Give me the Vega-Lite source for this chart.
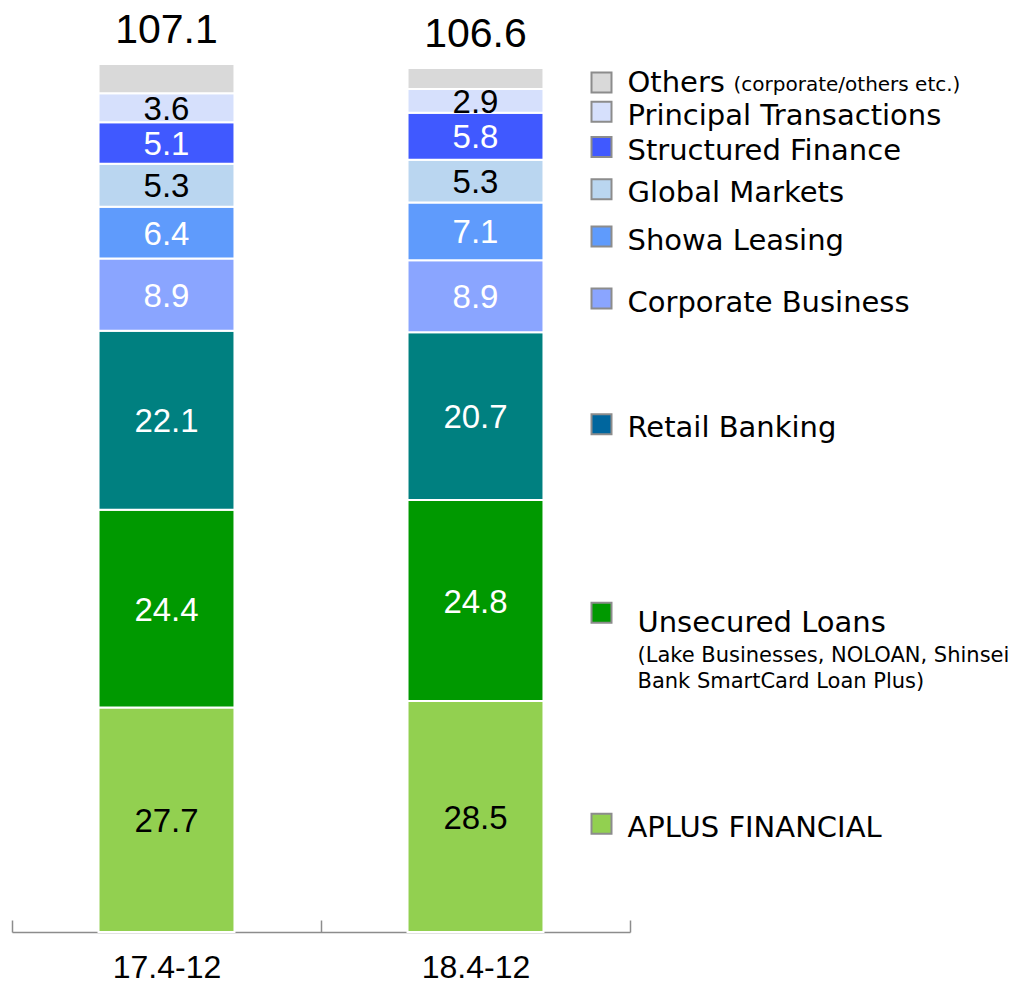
{
  "$schema": "https://vega.github.io/schema/vega-lite/v6.json",
  "autosize": {"type": "none"},
  "width": 618,
  "height": 868,
  "padding": {"left": 12, "top": 64, "right": 381, "bottom": 54},
  "background": "white",
  "config": {"view": {"stroke": null}},
  "datasets": {
    "segments": [
      {"period": "17.4-12", "segment": "APLUS FINANCIAL", "value": 27.7},
      {"period": "17.4-12", "segment": "Unsecured Loans", "value": 24.4},
      {"period": "17.4-12", "segment": "Retail Banking", "value": 22.1},
      {"period": "17.4-12", "segment": "Corporate Business", "value": 8.9},
      {"period": "17.4-12", "segment": "Showa Leasing", "value": 6.4},
      {"period": "17.4-12", "segment": "Global Markets", "value": 5.3},
      {"period": "17.4-12", "segment": "Structured Finance", "value": 5.1},
      {"period": "17.4-12", "segment": "Principal Transactions", "value": 3.6},
      {"period": "17.4-12", "segment": "Others", "value": 3.6},
      {"period": "18.4-12", "segment": "APLUS FINANCIAL", "value": 28.5},
      {"period": "18.4-12", "segment": "Unsecured Loans", "value": 24.8},
      {"period": "18.4-12", "segment": "Retail Banking", "value": 20.7},
      {"period": "18.4-12", "segment": "Corporate Business", "value": 8.9},
      {"period": "18.4-12", "segment": "Showa Leasing", "value": 7.1},
      {"period": "18.4-12", "segment": "Global Markets", "value": 5.3},
      {"period": "18.4-12", "segment": "Structured Finance", "value": 5.8},
      {"period": "18.4-12", "segment": "Principal Transactions", "value": 2.9},
      {"period": "18.4-12", "segment": "Others", "value": 2.6}
    ],
    "notes": [
      {"segment": "Others", "note": "(corporate/others etc.)"},
      {"segment": "Unsecured Loans", "note": "(Lake Businesses, NOLOAN, Shinsei\nBank SmartCard Loan Plus)"}
    ]
  },
  "data": {"name": "segments"},
  "transform": [
    {"calculate": "indexof(['APLUS FINANCIAL','Unsecured Loans','Retail Banking','Corporate Business','Showa Leasing','Global Markets','Structured Finance','Principal Transactions','Others'], datum.segment)", "as": "rank"},
    {"stack": "value", "groupby": ["period"], "sort": [{"field": "rank", "order": "ascending"}], "as": ["v0", "v1"]},
    {"calculate": "(datum.v0 + datum.v1) / 2", "as": "mid"},
    {"lookup": "segment", "from": {"data": {"name": "notes"}, "key": "segment", "fields": ["note"]}}
  ],
  "resolve": {"scale": {"color": "independent"}},
  "layer": [
    {
      "mark": {"type": "bar", "stroke": "white", "strokeWidth": 2, "width": {"band": 0.44}},
      "encoding": {
        "x": {"field": "period", "type": "nominal", "sort": ["17.4-12", "18.4-12"],
              "scale": {"paddingInner": 0, "paddingOuter": 0},
              "axis": {"title": null, "labelAngle": 0, "labelFont": "Liberation Sans", "labelFontSize": 32, "labelColor": "black",
                       "domainColor": "#8c8c8c", "domainWidth": 1.5, "tickColor": "#8c8c8c", "tickWidth": 1.5, "tickSize": -12,
                       "tickBand": "extent", "labelPadding": 32, "labelBaseline": "top"}},
        "y": {"field": "v0", "type": "quantitative", "scale": {"domain": [0, 107.1], "nice": false}, "axis": null},
        "y2": {"field": "v1"},
        "color": {"field": "segment", "type": "nominal", "legend": null,
                  "scale": {"domain": ["APLUS FINANCIAL", "Unsecured Loans", "Retail Banking", "Corporate Business", "Showa Leasing", "Global Markets", "Structured Finance", "Principal Transactions", "Others"],
                            "range": ["#92d050", "#009900", "#008080", "#8aa5ff", "#5f9bfc", "#bad6f0", "#4059ff", "#d6e0fc", "#d9d9d9"]}}
      }
    },
    {
      "transform": [{"filter": "datum.segment != 'Others'"}],
      "mark": {"type": "text", "font": "Liberation Sans", "fontSize": 33, "baseline": "middle", "align": "center", "dy": 2},
      "encoding": {
        "x": {"field": "period", "type": "nominal", "sort": ["17.4-12", "18.4-12"]},
        "y": {"field": "mid", "type": "quantitative"},
        "text": {"field": "value", "type": "quantitative", "format": ".1f"},
        "color": {"condition": {"test": "indexof(['Principal Transactions','Global Markets','APLUS FINANCIAL'], datum.segment) >= 0", "value": "black"}, "value": "white"}
      }
    },
    {
      "transform": [{"aggregate": [{"op": "sum", "field": "value", "as": "total"}], "groupby": ["period"]}],
      "mark": {"type": "text", "font": "Liberation Sans", "fontSize": 41, "baseline": "alphabetic", "align": "center", "dy": -21, "color": "black"},
      "encoding": {
        "x": {"field": "period", "type": "nominal", "sort": ["17.4-12", "18.4-12"]},
        "y": {"field": "total", "type": "quantitative"},
        "text": {"field": "total", "type": "quantitative", "format": ".1f"}
      }
    },
    {
      "transform": [{"filter": "datum.period == '17.4-12'"}],
      "mark": {"type": "point", "shape": "square", "filled": true, "size": 400, "stroke": "#8c8c8c", "strokeWidth": 2, "opacity": 1, "xOffset": 126, "yOffset": 4},
      "encoding": {
        "x": {"datum": "18.4-12", "type": "nominal"},
        "y": {"field": "mid", "type": "quantitative"},
        "color": {"field": "segment", "type": "nominal", "legend": null,
                  "scale": {"domain": ["APLUS FINANCIAL", "Unsecured Loans", "Retail Banking", "Corporate Business", "Showa Leasing", "Global Markets", "Structured Finance", "Principal Transactions", "Others"],
                            "range": ["#92d050", "#009900", "#00669e", "#8aa5ff", "#5f9bfc", "#bad6f0", "#4059ff", "#d6e0fc", "#d9d9d9"]}}
      }
    },
    {
      "transform": [{"filter": "datum.period == '17.4-12' && datum.segment != 'Unsecured Loans' && datum.segment != 'Others'"}],
      "mark": {"type": "text", "font": "DejaVu Sans", "fontSize": 29, "baseline": "middle", "align": "left", "dx": 152, "dy": 8, "color": "black"},
      "encoding": {
        "x": {"datum": "18.4-12", "type": "nominal"},
        "y": {"field": "mid", "type": "quantitative"},
        "text": {"field": "segment", "type": "nominal"}
      }
    },
    {
      "transform": [{"filter": "datum.period == '17.4-12' && datum.segment == 'Others'"}],
      "mark": {"type": "text", "font": "DejaVu Sans", "fontSize": 29, "baseline": "middle", "align": "left", "dx": 152, "dy": 4, "color": "black"},
      "encoding": {
        "x": {"datum": "18.4-12", "type": "nominal"},
        "y": {"field": "mid", "type": "quantitative"},
        "text": {"field": "segment", "type": "nominal"}
      }
    },
    {
      "transform": [{"filter": "datum.period == '17.4-12' && datum.segment == 'Unsecured Loans'"}],
      "mark": {"type": "text", "font": "DejaVu Sans", "fontSize": 29, "baseline": "middle", "align": "left", "dx": 162, "dy": 14, "color": "black"},
      "encoding": {
        "x": {"datum": "18.4-12", "type": "nominal"},
        "y": {"field": "mid", "type": "quantitative"},
        "text": {"field": "segment", "type": "nominal"}
      }
    },
    {
      "transform": [{"filter": "datum.period == '17.4-12' && datum.segment == 'Others'"}],
      "mark": {"type": "text", "font": "DejaVu Sans", "fontSize": 20, "baseline": "middle", "align": "left", "dx": 258, "dy": 6, "color": "black"},
      "encoding": {
        "x": {"datum": "18.4-12", "type": "nominal"},
        "y": {"field": "mid", "type": "quantitative"},
        "text": {"field": "note", "type": "nominal"}
      }
    },
    {
      "transform": [{"filter": "datum.period == '17.4-12' && datum.segment == 'Unsecured Loans'"}],
      "mark": {"type": "text", "font": "DejaVu Sans", "fontSize": 21, "baseline": "top", "align": "left", "dx": 162, "dy": 36, "lineHeight": 26, "lineBreak": "\n", "color": "black"},
      "encoding": {
        "x": {"datum": "18.4-12", "type": "nominal"},
        "y": {"field": "mid", "type": "quantitative"},
        "text": {"field": "note", "type": "nominal"}
      }
    }
  ]
}
